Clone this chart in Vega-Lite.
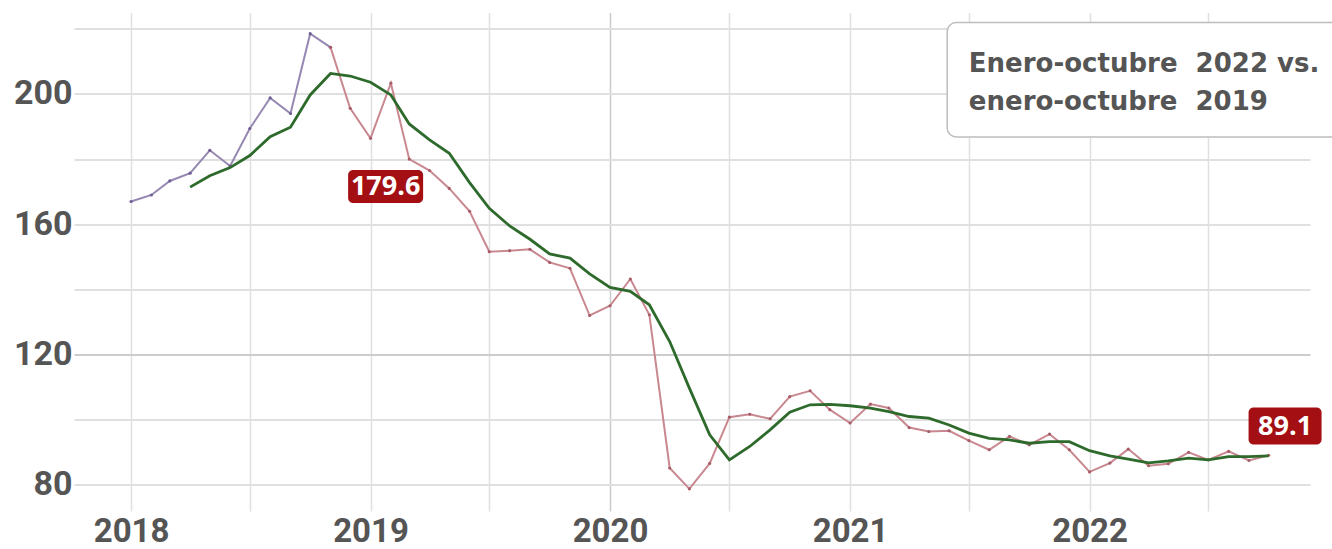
{
  "$schema": "https://vega.github.io/schema/vega-lite/v6.json",
  "width": 1236,
  "height": 498.5,
  "autosize": {"type": "none"},
  "padding": {"left": 74, "top": 12.5, "right": 22, "bottom": 38},
  "background": "white",
  "config": {"view": {"stroke": null}, "font": "Roboto"},
  "datasets": {
    "serie": [
      {"date": "2018-01-01", "value": 167.0, "s": "hist"},
      {"date": "2018-02-01", "value": 169.0, "s": "hist"},
      {"date": "2018-03-01", "value": 173.3, "s": "hist"},
      {"date": "2018-04-01", "value": 175.7, "s": "hist"},
      {"date": "2018-05-01", "value": 182.7, "s": "hist"},
      {"date": "2018-06-01", "value": 177.9, "s": "hist"},
      {"date": "2018-07-01", "value": 189.4, "s": "hist"},
      {"date": "2018-08-01", "value": 198.8, "s": "hist"},
      {"date": "2018-09-01", "value": 194.0, "s": "hist"},
      {"date": "2018-10-01", "value": 218.5, "s": "hist"},
      {"date": "2018-11-01", "value": 214.3, "s": "hist"},
      {"date": "2018-11-01", "value": 214.3, "s": "act"},
      {"date": "2018-12-01", "value": 195.6, "s": "act"},
      {"date": "2019-01-01", "value": 186.4, "s": "act"},
      {"date": "2019-02-01", "value": 203.3, "s": "act"},
      {"date": "2019-03-01", "value": 180.0, "s": "act"},
      {"date": "2019-04-01", "value": 176.5, "s": "act"},
      {"date": "2019-05-01", "value": 171.0, "s": "act"},
      {"date": "2019-06-01", "value": 164.0, "s": "act"},
      {"date": "2019-07-01", "value": 151.6, "s": "act"},
      {"date": "2019-08-01", "value": 151.9, "s": "act"},
      {"date": "2019-09-01", "value": 152.3, "s": "act"},
      {"date": "2019-10-01", "value": 148.3, "s": "act"},
      {"date": "2019-11-01", "value": 146.5, "s": "act"},
      {"date": "2019-12-01", "value": 132.0, "s": "act"},
      {"date": "2020-01-01", "value": 135.0, "s": "act"},
      {"date": "2020-02-01", "value": 143.2, "s": "act"},
      {"date": "2020-03-01", "value": 132.2, "s": "act"},
      {"date": "2020-04-01", "value": 85.2, "s": "act"},
      {"date": "2020-05-01", "value": 78.8, "s": "act"},
      {"date": "2020-06-01", "value": 86.6, "s": "act"},
      {"date": "2020-07-01", "value": 100.8, "s": "act"},
      {"date": "2020-08-01", "value": 101.7, "s": "act"},
      {"date": "2020-09-01", "value": 100.3, "s": "act"},
      {"date": "2020-10-01", "value": 107.1, "s": "act"},
      {"date": "2020-11-01", "value": 108.9, "s": "act"},
      {"date": "2020-12-01", "value": 103.1, "s": "act"},
      {"date": "2021-01-01", "value": 99.0, "s": "act"},
      {"date": "2021-02-01", "value": 104.8, "s": "act"},
      {"date": "2021-03-01", "value": 103.6, "s": "act"},
      {"date": "2021-04-01", "value": 97.6, "s": "act"},
      {"date": "2021-05-01", "value": 96.4, "s": "act"},
      {"date": "2021-06-01", "value": 96.6, "s": "act"},
      {"date": "2021-07-01", "value": 93.6, "s": "act"},
      {"date": "2021-08-01", "value": 90.8, "s": "act"},
      {"date": "2021-09-01", "value": 94.9, "s": "act"},
      {"date": "2021-10-01", "value": 92.3, "s": "act"},
      {"date": "2021-11-01", "value": 95.6, "s": "act"},
      {"date": "2021-12-01", "value": 90.8, "s": "act"},
      {"date": "2022-01-01", "value": 84.0, "s": "act"},
      {"date": "2022-02-01", "value": 86.7, "s": "act"},
      {"date": "2022-03-01", "value": 91.0, "s": "act"},
      {"date": "2022-04-01", "value": 85.9, "s": "act"},
      {"date": "2022-05-01", "value": 86.5, "s": "act"},
      {"date": "2022-06-01", "value": 90.0, "s": "act"},
      {"date": "2022-07-01", "value": 87.7, "s": "act"},
      {"date": "2022-08-01", "value": 90.3, "s": "act"},
      {"date": "2022-09-01", "value": 87.5, "s": "act"},
      {"date": "2022-10-01", "value": 89.1, "s": "act"},
      {"date": "2018-04-01", "value": 171.4, "s": "tend"},
      {"date": "2018-05-01", "value": 174.9, "s": "tend"},
      {"date": "2018-06-01", "value": 177.4, "s": "tend"},
      {"date": "2018-07-01", "value": 181.1, "s": "tend"},
      {"date": "2018-08-01", "value": 186.9, "s": "tend"},
      {"date": "2018-09-01", "value": 189.8, "s": "tend"},
      {"date": "2018-10-01", "value": 199.7, "s": "tend"},
      {"date": "2018-11-01", "value": 206.3, "s": "tend"},
      {"date": "2018-12-01", "value": 205.5, "s": "tend"},
      {"date": "2019-01-01", "value": 203.6, "s": "tend"},
      {"date": "2019-02-01", "value": 199.7, "s": "tend"},
      {"date": "2019-03-01", "value": 190.8, "s": "tend"},
      {"date": "2019-04-01", "value": 185.9, "s": "tend"},
      {"date": "2019-05-01", "value": 181.8, "s": "tend"},
      {"date": "2019-06-01", "value": 172.8, "s": "tend"},
      {"date": "2019-07-01", "value": 164.9, "s": "tend"},
      {"date": "2019-08-01", "value": 159.5, "s": "tend"},
      {"date": "2019-09-01", "value": 155.4, "s": "tend"},
      {"date": "2019-10-01", "value": 150.9, "s": "tend"},
      {"date": "2019-11-01", "value": 149.6, "s": "tend"},
      {"date": "2019-12-01", "value": 144.8, "s": "tend"},
      {"date": "2020-01-01", "value": 140.6, "s": "tend"},
      {"date": "2020-02-01", "value": 139.4, "s": "tend"},
      {"date": "2020-03-01", "value": 135.3, "s": "tend"},
      {"date": "2020-04-01", "value": 124.0, "s": "tend"},
      {"date": "2020-05-01", "value": 109.7, "s": "tend"},
      {"date": "2020-06-01", "value": 95.4, "s": "tend"},
      {"date": "2020-07-01", "value": 87.7, "s": "tend"},
      {"date": "2020-08-01", "value": 91.8, "s": "tend"},
      {"date": "2020-09-01", "value": 96.9, "s": "tend"},
      {"date": "2020-10-01", "value": 102.3, "s": "tend"},
      {"date": "2020-11-01", "value": 104.6, "s": "tend"},
      {"date": "2020-12-01", "value": 104.7, "s": "tend"},
      {"date": "2021-01-01", "value": 104.3, "s": "tend"},
      {"date": "2021-02-01", "value": 103.6, "s": "tend"},
      {"date": "2021-03-01", "value": 102.5, "s": "tend"},
      {"date": "2021-04-01", "value": 101.0, "s": "tend"},
      {"date": "2021-05-01", "value": 100.5, "s": "tend"},
      {"date": "2021-06-01", "value": 98.4, "s": "tend"},
      {"date": "2021-07-01", "value": 95.9, "s": "tend"},
      {"date": "2021-08-01", "value": 94.3, "s": "tend"},
      {"date": "2021-09-01", "value": 93.8, "s": "tend"},
      {"date": "2021-10-01", "value": 92.8, "s": "tend"},
      {"date": "2021-11-01", "value": 93.3, "s": "tend"},
      {"date": "2021-12-01", "value": 93.3, "s": "tend"},
      {"date": "2022-01-01", "value": 90.5, "s": "tend"},
      {"date": "2022-02-01", "value": 88.9, "s": "tend"},
      {"date": "2022-03-01", "value": 87.9, "s": "tend"},
      {"date": "2022-04-01", "value": 86.8, "s": "tend"},
      {"date": "2022-05-01", "value": 87.4, "s": "tend"},
      {"date": "2022-06-01", "value": 88.2, "s": "tend"},
      {"date": "2022-07-01", "value": 87.7, "s": "tend"},
      {"date": "2022-08-01", "value": 88.7, "s": "tend"},
      {"date": "2022-09-01", "value": 88.7, "s": "tend"},
      {"date": "2022-10-01", "value": 88.9, "s": "tend"}
    ],
    "etiquetas": [
      {"date": "2019-01-24", "value": 171.6, "label": "179.6"},
      {"date": "2022-10-26", "value": 98.1, "label": "89.1"}
    ],
    "caja": [
      {"inicio": "2021-05-29", "fin": "2023-02-05", "arriba": 221.9, "abajo": 186.8}
    ],
    "nota": [
      {"date": "2021-07-01", "value": 206.7, "text": "Enero-octubre\u00a0 2022 vs."},
      {"date": "2021-07-01", "value": 195.1, "text": "enero-octubre\u00a0 2019"}
    ]
  },
  "layer": [
    {
      "data": {"name": "serie"},
      "transform": [{"filter": "datum.s === 'hist'"}],
      "mark": {"type": "line", "color": "#9688b2", "strokeWidth": 2, "point": {"filled": true, "size": 10, "color": "#6f5f93"}},
      "encoding": {
        "x": {
          "field": "date", "type": "temporal",
          "scale": {"type": "utc", "domain": [{"year": 2017, "month": 10, "date": 6, "utc": true}, {"year": 2022, "month": 12, "date": 3, "utc": true}]},
          "axis": {
            "title": null, "orient": "bottom", "domain": false, "ticks": false, "grid": true,
            "values": [
              {"year": 2018, "month": 1, "date": 1, "utc": true},
              {"year": 2018, "month": 7, "date": 1, "utc": true},
              {"year": 2019, "month": 1, "date": 1, "utc": true},
              {"year": 2019, "month": 7, "date": 1, "utc": true},
              {"year": 2020, "month": 1, "date": 1, "utc": true},
              {"year": 2020, "month": 7, "date": 1, "utc": true},
              {"year": 2021, "month": 1, "date": 1, "utc": true},
              {"year": 2021, "month": 7, "date": 1, "utc": true},
              {"year": 2022, "month": 1, "date": 1, "utc": true},
              {"year": 2022, "month": 7, "date": 1, "utc": true}
            ],
            "labelExpr": "utcmonth(datum.value) == 0 ? utcFormat(datum.value, '%Y') : ''",
            "gridColor": {"condition": {"test": "utcyear(datum.value) == 2020 && utcmonth(datum.value) == 0", "value": "#c9c9c9"}, "value": "#e0e0e0"},
            "gridWidth": 1.5,
            "labelFont": "Roboto", "labelFontWeight": "bold", "labelFontSize": 33, "labelColor": "#555555",
            "labelPadding": 4, "labelBaseline": "top", "labelFlush": false, "labelOverlap": false
          }
        },
        "y": {
          "field": "value", "type": "quantitative",
          "scale": {"domain": [72, 225], "nice": false, "zero": false},
          "axis": {
            "title": null, "domain": false, "ticks": false, "grid": true,
            "values": [80, 100, 120, 140, 160, 180, 200, 220],
            "labelExpr": "datum.value % 40 == 0 ? datum.label : ''",
            "gridColor": {"condition": {"test": "datum.value == 120", "value": "#cccccc"}, "value": "#e0e0e0"},
            "gridWidth": 2,
            "labelFont": "Roboto", "labelFontWeight": "bold", "labelFontSize": 34, "labelColor": "#555555",
            "labelPadding": 2
          }
        }
      }
    },
    {
      "mark": {"type": "rule", "color": "#e2b02c", "strokeWidth": 3},
      "encoding": {"x": {"datum": {"year": 2019, "month": 1, "date": 1, "utc": true}, "type": "temporal"}}
    },
    {
      "data": {"name": "serie"},
      "transform": [{"filter": "datum.s === 'act'"}],
      "mark": {"type": "line", "color": "#c98890", "strokeWidth": 2, "point": {"filled": true, "size": 10, "color": "#a85e68"}},
      "encoding": {
        "x": {"field": "date", "type": "temporal"},
        "y": {"field": "value", "type": "quantitative"}
      }
    },
    {
      "data": {"name": "serie"},
      "transform": [{"filter": "datum.s === 'tend'"}],
      "mark": {"type": "line", "color": "#2d6a2b", "strokeWidth": 2.8},
      "encoding": {
        "x": {"field": "date", "type": "temporal"},
        "y": {"field": "value", "type": "quantitative"}
      }
    },
    {
      "data": {"name": "etiquetas"},
      "transform": [{"filter": "datum.label === '179.6'"}],
      "mark": {"type": "rect", "width": 75, "height": 33, "cornerRadius": 5, "color": "#a30f12"},
      "encoding": {
        "x": {"field": "date", "type": "temporal"},
        "y": {"field": "value", "type": "quantitative"}
      }
    },
    {
      "data": {"name": "etiquetas"},
      "transform": [{"filter": "datum.label === '89.1'"}],
      "mark": {"type": "rect", "width": 73, "height": 37, "cornerRadius": 5, "color": "#a30f12"},
      "encoding": {
        "x": {"field": "date", "type": "temporal"},
        "y": {"field": "value", "type": "quantitative"}
      }
    },
    {
      "data": {"name": "etiquetas"},
      "mark": {"type": "text", "font": "Open Sans", "fontWeight": "bold", "fontSize": 27, "color": "white", "align": "center", "baseline": "middle", "dy": 1},
      "encoding": {
        "x": {"field": "date", "type": "temporal"},
        "y": {"field": "value", "type": "quantitative"},
        "text": {"field": "label"}
      }
    },
    {
      "data": {"name": "caja"},
      "mark": {"type": "rect", "fill": "white", "stroke": "#bdbdbd", "strokeWidth": 1.5, "cornerRadius": 9},
      "encoding": {
        "x": {"field": "inicio", "type": "temporal"},
        "x2": {"field": "fin"},
        "y": {"field": "arriba", "type": "quantitative"},
        "y2": {"field": "abajo"}
      }
    },
    {
      "data": {"name": "nota"},
      "mark": {"type": "text", "font": "DejaVu Sans", "fontWeight": "bold", "fontSize": 26, "color": "#555555", "align": "left", "baseline": "alphabetic"},
      "encoding": {
        "x": {"field": "date", "type": "temporal"},
        "y": {"field": "value", "type": "quantitative"},
        "text": {"field": "text"}
      }
    }
  ]
}
